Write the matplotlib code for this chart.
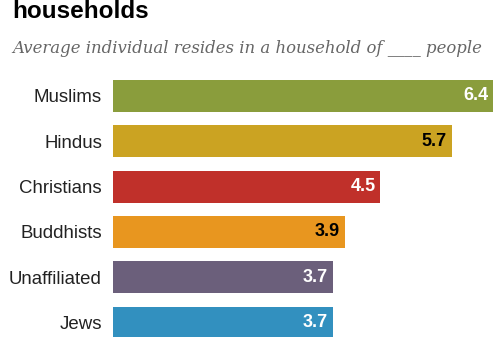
import numpy as np
import matplotlib.pyplot as plt

# Datos del gráfico
grupos = ["Muslims", "Hindus", "Christians", "Buddhists", "Unaffiliated", "Jews"]
tamanos = [6.4, 5.7, 4.5, 3.9, 3.7, 3.7]
colores = ["#8a9d3c", "#cba322", "#c0302a", "#e8961f", "#6b5f7b", "#3290bf"]
color_texto = ["white", "black", "white", "black", "white", "white"]

W, H = 503, 337
fig = plt.figure(figsize=(W / 100, H / 100), dpi=100)

# Ejes: cero en x=113 px, 59.4 px por unidad
izq, der = 113, 503
arriba, abajo = 70, 337
ax = fig.add_axes([izq / W, 1 - abajo / H, (der - izq) / W, (abajo - arriba) / H])
ax.set_xlim(0, (der - izq) / 59.4)
paso = 45.3
y0 = (arriba - 96) / paso
ax.set_ylim(y0 + (abajo - arriba) / paso, y0)

pos = np.arange(len(grupos))
ax.barh(pos, tamanos, height=32 / paso, color=colores)

for i, v in enumerate(tamanos):
    ax.annotate(f"{v}", (v, i), xytext=(-3.5, 0), textcoords="offset points",
                ha="right", va="center", fontsize=13, fontweight="bold",
                color=color_texto[i], family="Liberation Sans")

ax.set_yticks(pos)
ax.set_yticklabels(grupos, fontsize=13.4, family="Liberation Sans", color="#222222")
ax.tick_params(axis="y", length=0, pad=8)
ax.set_xticks([])
for s in ax.spines.values():
    s.set_visible(False)

# Título y subtítulo
fig.text(12 / W, 1 - 18 / H, "households", fontsize=17.5, fontweight="bold",
         family="Liberation Sans", va="baseline", ha="left")
fig.text(12 / W, 1 - 53 / H, "Average individual resides in a household of ____ people",
         fontsize=11.9, style="italic", family="DejaVu Serif", color="#666666",
         va="baseline", ha="left")

plt.savefig("out.png", dpi=100)
plt.close()
